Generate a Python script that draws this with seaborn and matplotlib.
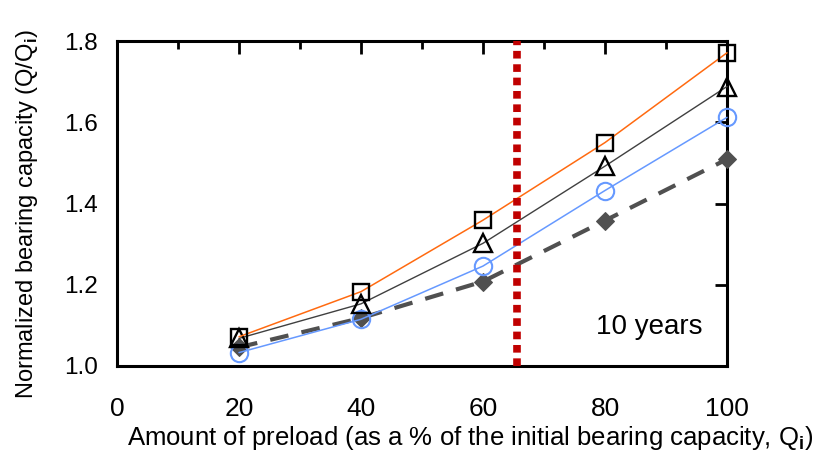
import matplotlib
matplotlib.use("Agg")
import matplotlib.pyplot as plt
import seaborn as sns
import numpy as np
from matplotlib.ticker import MultipleLocator

sns.set_theme(style="white")
plt.rcParams['font.family'] = ['Liberation Sans', 'DejaVu Sans']
plt.rcParams['mathtext.fontset'] = 'custom'
plt.rcParams['mathtext.rm'] = 'Liberation Sans'
plt.rcParams['mathtext.bf'] = 'Liberation Sans:bold'
plt.rcParams['text.color'] = 'black'
plt.rcParams['axes.labelcolor'] = 'black'
plt.rcParams['xtick.color'] = 'black'
plt.rcParams['ytick.color'] = 'black'

# Data
preload = [20, 40, 60, 80, 100]
squares = [1.072, 1.183, 1.359, 1.550, 1.771]
triangles = [1.068, 1.153, 1.302, 1.492, 1.688]
circles = [1.033, 1.115, 1.246, 1.432, 1.612]
diamonds = [1.046, 1.118, 1.208, 1.358, 1.509]
threshold = 65.5
note = "10 years"

fig = plt.figure(figsize=(8.13, 4.57), dpi=100)
ax = fig.add_axes([117/813, 91/457, 610/813, 325/457])

sns.lineplot(x=preload, y=diamonds, ax=ax, color='#505050', lw=3,
             marker='D', markersize=9, markerfacecolor='#505050', markeredgecolor='#505050',
             clip_on=False, zorder=3)
ax.lines[-1].set_dashes([4.5, 3.2])
sns.lineplot(x=preload, y=circles, ax=ax, color='#6699FF', lw=1.1,
             marker='o', markersize=12.5, markerfacecolor='none', markeredgecolor='#6699FF',
             markeredgewidth=1.5, clip_on=False, zorder=4)
sns.lineplot(x=preload, y=triangles, ax=ax, color='#404040', lw=1.0,
             marker='^', markersize=12.5, markerfacecolor='none', markeredgecolor='black',
             markeredgewidth=1.7, clip_on=False, zorder=5)
sns.lineplot(x=preload, y=squares, ax=ax, color='#FF6A10', lw=1.1,
             marker='s', markersize=11.5, markerfacecolor='none', markeredgecolor='black',
             markeredgewidth=1.7, clip_on=False, zorder=6)

ax.axvline(threshold, color='#C00000', lw=5.5, linestyle=(0, (1.0, 0.75)),
           dash_capstyle='butt', zorder=7)

ax.set_xlim(0, 100)
ax.set_ylim(1.0, 1.8)
ax.xaxis.set_major_locator(MultipleLocator(20))
ax.xaxis.set_minor_locator(MultipleLocator(10))
ax.yaxis.set_major_locator(MultipleLocator(0.2))
ax.yaxis.set_major_formatter(matplotlib.ticker.FormatStrFormatter('%.1f'))

for s in ax.spines.values():
    s.set_visible(True)
    s.set_color('black')
    s.set_linewidth(2.2)
ax.tick_params(axis='both', which='both', direction='in', top=True, right=True,
               color='black', labelcolor='black', width=2)
ax.tick_params(axis='x', which='major', length=9, labelsize=19, pad=22)
ax.tick_params(axis='x', which='minor', length=6)
ax.tick_params(axis='y', which='major', length=9, labelsize=17.5, pad=14)

ax.text(0.96, 0.12, note, transform=ax.transAxes, fontsize=20, ha='right', va='center',
        color='black')

ax.set_xlabel("Amount of preload (as a % of the initial bearing capacity, Q$_\\mathbf{i}$)",
              fontsize=18.5, color='black')
ax.xaxis.set_label_coords((470 - 117) / 610, (366 - 438) / 325, transform=ax.transAxes)
ax.xaxis.label.set_va('center')
ax.set_ylabel("Normalized bearing capacity (Q/Q$_\\mathbf{i}$)", fontsize=17, color='black')
ax.yaxis.set_label_coords((27 - 117) / 610, (366 - 214) / 325, transform=ax.transAxes)
ax.yaxis.label.set_va('center')

fig.savefig("out.png", dpi=100)
